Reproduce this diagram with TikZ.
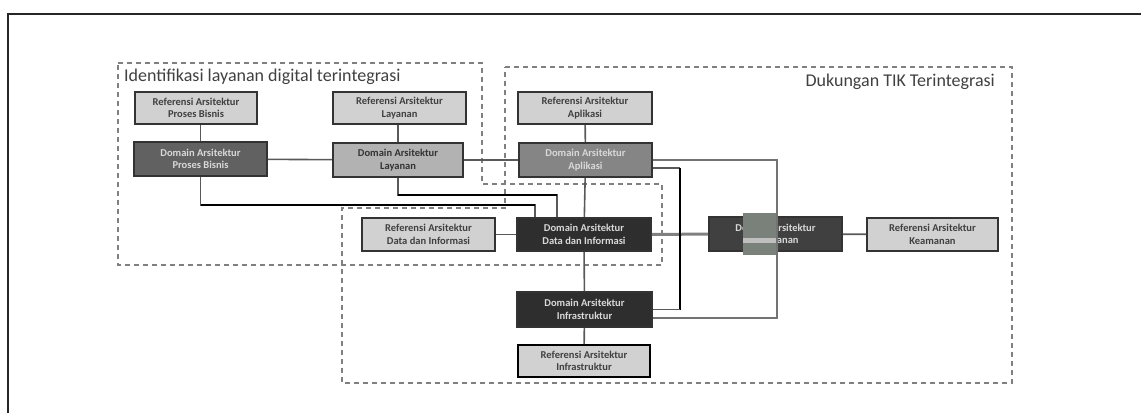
\documentclass[tikz,border=0pt]{standalone}
\usepackage{fontspec}
\setmainfont{Carlito}
\begin{document}
\begin{tikzpicture}[x=1pt,y=-1pt,
  box/.style={draw=black!80,line width=1.6pt,align=center,inner sep=1pt,
    font=\fontsize{10.5}{12.5}\selectfont\bfseries},
  refbox/.style={box,fill=black!18,text=black!75},
  domdark/.style={box,fill=black!82,text=white!85!black},
  dommid/.style={box,fill=black!58,text=white!85!black},
  domlight/.style={box,fill=black!30,text=black!80},
  conn/.style={draw=black!65,line width=1.6pt},
  blk/.style={draw=black,line width=2.4pt},
  region/.style={draw=black!50,line width=1.8pt,dash pattern=on 5pt off 4pt},
  title/.style={text=black!75,font=\fontsize{18}{20}\selectfont}]
\useasboundingbox (0,0) rectangle (1141,413);
% outer frame (top and left visible)
\draw[line width=1.6pt,black!85] (8,413) -- (8,14) -- (1141,14);
% regions
\draw[region] (118,63) -- (482,63) -- (482,184) -- (662,184) -- (662,265) -- (118,265) -- cycle;
\draw[region] (505,67) -- (1012,67) -- (1012,383) -- (342,383) -- (342,208) -- (505,208) -- cycle;
\node[title,anchor=west,inner sep=0pt] (t1) at (124,77) {Identifikasi layanan digital terintegrasi};
\node[title,anchor=east,inner sep=0pt] (t2) at (995,82) {Dukungan TIK Terintegrasi};
% boxes
\node[refbox,minimum width=122pt,minimum height=32pt] (RefPB) at (196,108) {Referensi Arsitektur\\Proses Bisnis};
\node[refbox,minimum width=133pt,minimum height=32pt] (RefLay) at (399.5,108) {Referensi Arsitektur\\Layanan};
\node[refbox,minimum width=134pt,minimum height=32pt] (RefApl) at (585,108) {Referensi Arsitektur\\Aplikasi};
\node[dommid,fill=black!62,minimum width=133pt,minimum height=34pt] (DomPB) at (200.5,159) {Domain Arsitektur\\Proses Bisnis};
\node[domlight,minimum width=130pt,minimum height=34pt] (DomLay) at (398,160) {Domain Arsitektur\\Layanan};
\node[dommid,fill=black!48,minimum width=133pt,minimum height=34pt] (DomApl) at (585.5,160) {Domain Arsitektur\\Aplikasi};
\node[refbox,minimum width=133pt,minimum height=33pt] (RefData) at (428.5,234.5) {Referensi Arsitektur\\Data dan Informasi};
\node[domdark,minimum width=134pt,minimum height=33pt] (DomData) at (584,234.5) {Domain Arsitektur\\Data dan Informasi};
\node[domdark,fill=black!75,minimum width=133pt,minimum height=34pt] (DomKeam) at (775.5,234) {Domain Arsitektur\\Keamanan};
\node[refbox,minimum width=131pt,minimum height=33pt] (RefKeam) at (932.5,234.5) {Referensi Arsitektur\\Keamanan};
\node[domdark,minimum width=135pt,minimum height=35pt] (DomInfra) at (584.5,309.5) {Domain Arsitektur\\Infrastruktur};
\node[refbox,draw=black,minimum width=132pt,minimum height=32pt] (RefInfra) at (584,361) {Referensi Arsitektur\\Infrastruktur};
% patch over security domain
\fill[black!45!green!4!gray] (743,213) rectangle (777,255);
\fill[black!25] (743,238) rectangle (777,243);
% connectors
\draw[conn] (DomPB.north) -- (DomPB.north |- RefPB.south);
\draw[conn] (DomLay.north) -- (DomLay.north |- RefLay.south);
\draw[conn] (RefApl) -- (DomApl);
\draw[conn] (DomPB) -- (DomLay);
\draw[conn] (DomLay) -- (DomApl);
\draw[conn] (DomApl) -- (DomData);
\draw[conn] (DomData) -- (DomInfra);
\draw[conn] (DomInfra) -- (RefInfra);
\draw[conn] (RefData) -- (DomData);
\draw[conn,line width=3pt,draw=black!50] (DomData) -- (DomKeam);
\draw[conn] (DomKeam) -- (RefKeam);
\coordinate (j1) at (535,205);
\coordinate (j2) at (557,195);
\draw[conn] (DomPB.south) |- (j1) -- (j1 |- DomData.north);
\draw[blk] (DomPB.south |- j1) -- (j1);
\draw[conn] (DomLay.south) |- (j2) -- (j2 |- DomData.north);
\draw[blk] (DomLay.south |- j2) -- (j2);
\coordinate (j3) at (680,168);
\coordinate (j4) at (777,160);
\coordinate (j5) at (777,318);
\draw[conn] (j3 -| DomApl.east) -- (j3);
\draw[blk] (j3) -- (j3 |- DomInfra.east);
\draw[conn] (j3 |- DomInfra.east) -- (DomInfra.east);
\draw[conn,draw=black!55] (DomApl.east) -- (j4) -- (j5) -- (j5 -| DomInfra.east);
\end{tikzpicture}
\end{document}
